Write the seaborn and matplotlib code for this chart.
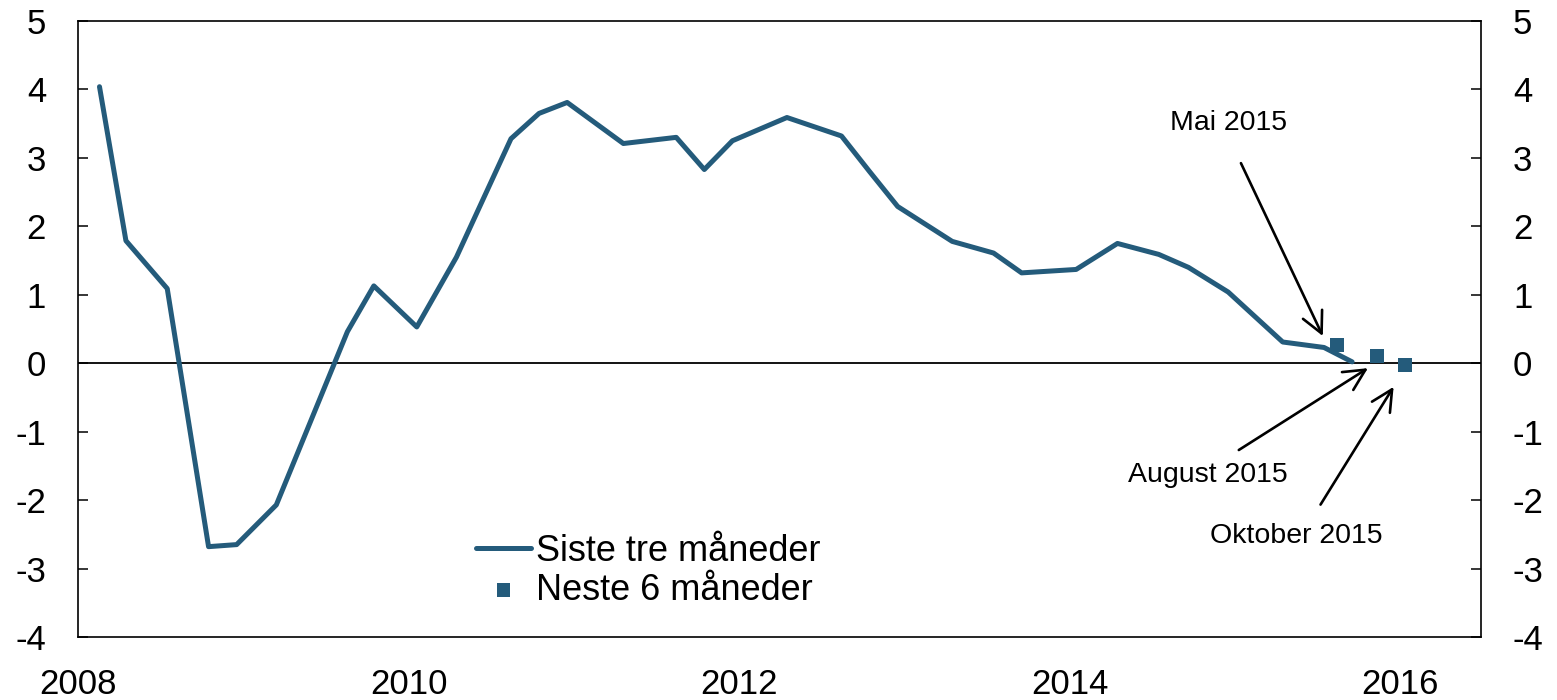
import matplotlib
matplotlib.use("Agg")
import matplotlib.pyplot as plt
import numpy as np
import pandas as pd
import seaborn as sns

# ---------------------------------------------------------------------------
# Data
# ---------------------------------------------------------------------------
LINE_DATES = [
    2008.13, 2008.29, 2008.54, 2008.79, 2008.96, 2009.20, 2009.63, 2009.79,
    2010.05, 2010.29, 2010.62, 2010.79, 2010.96, 2011.30, 2011.62, 2011.79,
    2011.96, 2012.29, 2012.62, 2012.79, 2012.96, 2013.29, 2013.54, 2013.71,
    2014.04, 2014.29, 2014.54, 2014.72, 2014.96, 2015.29, 2015.54, 2015.71,
]
LINE_VALUES = [
    4.04, 1.79, 1.09, -2.68, -2.65, -2.07, 0.46, 1.13,
    0.53, 1.55, 3.28, 3.65, 3.81, 3.21, 3.30, 2.83,
    3.25, 3.59, 3.32, 2.80, 2.29, 1.78, 1.61, 1.32,
    1.37, 1.75, 1.59, 1.40, 1.04, 0.31, 0.23, 0.02,
]

POINT_DATES = [2015.62, 2015.86, 2016.03]
POINT_VALUES = [0.27, 0.11, -0.02]

LINE_LABEL = "Siste tre måneder"
POINT_LABEL = "Neste 6 måneder"

X_TICKS = [2008, 2010, 2012, 2014, 2016]
Y_TICKS = [-4, -3, -2, -1, 0, 1, 2, 3, 4, 5]

COLOR = "#245B7B"

line_df = pd.DataFrame({"date": LINE_DATES, "value": LINE_VALUES})
point_df = pd.DataFrame({"date": POINT_DATES, "value": POINT_VALUES})

# ---------------------------------------------------------------------------
# Plot
# ---------------------------------------------------------------------------
sns.set_style("white")
plt.rcParams["font.family"] = ["Liberation Sans", "DejaVu Sans"]
plt.rcParams["axes.unicode_minus"] = False
plt.rcParams["text.color"] = "black"

fig = plt.figure(figsize=(15.57, 7.0), dpi=100)
ax = fig.add_axes([0.0501, 0.09, 0.9011, 0.88])

ax.axhline(0, color="black", lw=1.3, zorder=1)

sns.lineplot(data=line_df, x="date", y="value", color=COLOR, lw=3.6,
             label=LINE_LABEL, ax=ax, zorder=3)
sns.scatterplot(data=point_df, x="date", y="value", color=COLOR, marker="s",
                s=100, edgecolor="none", label=POINT_LABEL, ax=ax, zorder=4)

ax.set_xlim(2008, 2016.49)
ax.set_ylim(-4, 5)
ax.set_xticks(X_TICKS)
ax.set_yticks(Y_TICKS)
ax.set_xlabel("")
ax.set_ylabel("")

for s in ax.spines.values():
    s.set_color("black")
    s.set_linewidth(1.2)

ax.tick_params(axis="x", direction="in", length=7, width=1.1, color="black",
               labelcolor="black", labelsize=25, pad=22)
ax.tick_params(axis="y", direction="in", length=7, width=1.1, color="black",
               labelcolor="black", labelsize=25, pad=23, left=True, right=True,
               labelleft=True, labelright=True)

# annotations
annot_kw = dict(arrowprops=dict(arrowstyle="->", color="black", lw=1.9,
                                mutation_scale=38))
ax.annotate("", xy=(2015.54, 0.36), xytext=(2015.03, 2.96), **annot_kw)
ax.annotate("", xy=(2015.82, -0.05), xytext=(2015.01, -1.29), **annot_kw)
ax.annotate("", xy=(2015.97, -0.31), xytext=(2015.51, -2.10), **annot_kw)
ax.text(2014.96, 3.51, "Mai 2015", fontsize=20.5, ha="center", va="center")
ax.text(2014.84, -1.64, "August 2015", fontsize=20.5, ha="center", va="center")
ax.text(2015.37, -2.52, "Oktober 2015", fontsize=20.5, ha="center", va="center")

leg = ax.legend(loc="upper left", bbox_to_anchor=(0.284, 0.167), frameon=False,
                fontsize=26, handlelength=1.5, handletextpad=0.15,
                labelspacing=0.1, borderpad=0, borderaxespad=0)
for t in leg.get_texts():
    t.set_color("black")

fig.savefig("out.png", dpi=100)
plt.close(fig)
